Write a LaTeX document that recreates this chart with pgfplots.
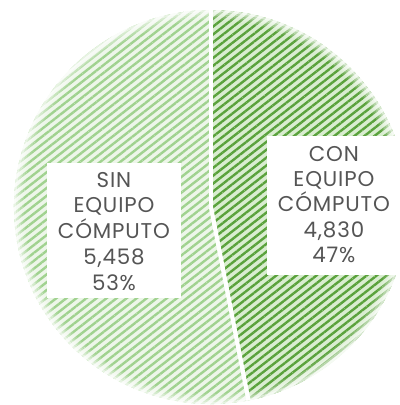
\documentclass[border=0pt]{standalone}
\usepackage{pgfplots}
\pgfplotsset{compat=1.18}
\usepackage{pgfplotstable}
\usetikzlibrary{patterns.meta}
\usepackage{fontspec}
\setmainfont[LetterSpace=4]{Poppins}
\definecolor{darkbg}{HTML}{D9EDD0}
\definecolor{darkstripe}{HTML}{5AA23C}
\definecolor{lightbg}{HTML}{EDF6E9}
\definecolor{lightstripe}{HTML}{A0D28F}
\definecolor{txt}{HTML}{555555}

\pgfplotstableread{
label value
CON 4830
SIN 5458
}\piedata

\begin{document}
\begin{tikzpicture}
\pgfplotstablegetelem{0}{value}\of\piedata \global\let\vcon\pgfplotsretval
\pgfplotstablegetelem{1}{value}\of\piedata \global\let\vsin\pgfplotsretval
\pgfmathsetmacro\total{\vcon+\vsin}
\pgfmathsetmacro\fcon{\vcon/\total}
\pgfmathsetmacro\fsin{\vsin/\total}
\pgfmathsetmacro\acon{360*\fcon}
\pgfmathsetmacro\asin{360*\fsin}
\pgfmathtruncatemacro\pcon{round(100*\fcon)}
\pgfmathtruncatemacro\psin{round(100*\fsin)}
\def\R{4.925cm}
\begin{axis}[hide axis, x=0.025cm, y=0.025cm, xmin=0, xmax=400, ymin=0, ymax=405,
  anchor=south west, at={(0,0)}, clip=true]
% light slice (SIN)
\fill[lightbg] (axis cs:211,198) -- ++(90:\R) arc[start angle=90, delta angle=\asin, radius=\R] -- cycle;
\fill[pattern={Lines[angle=38,distance=4.4pt,line width=1.7pt]}, pattern color=lightstripe]
  (axis cs:211,198) -- ++(90:\R) arc[start angle=90, delta angle=\asin, radius=\R] -- cycle;
% dark slice (CON)
\fill[darkbg] (axis cs:211,198) -- ++(90:\R) arc[start angle=90, delta angle=-\acon, radius=\R] -- cycle;
\fill[pattern={Lines[angle=38,distance=4.4pt,line width=1.7pt]}, pattern color=darkstripe]
  (axis cs:211,198) -- ++(90:\R) arc[start angle=90, delta angle=-\acon, radius=\R] -- cycle;
% soft rim
\draw[white, opacity=0.12, line width=1.5pt] (axis cs:211,198) circle[radius=4.7cm];
\draw[white, opacity=0.25, line width=1.5pt] (axis cs:211,198) circle[radius=4.75cm];
\draw[white, opacity=0.4, line width=1.5pt] (axis cs:211,198) circle[radius=4.8cm];
\draw[white, opacity=0.55, line width=1.5pt] (axis cs:211,198) circle[radius=4.85cm];
\draw[white, opacity=0.75, line width=1.5pt] (axis cs:211,198) circle[radius=4.9cm];
% separators
\draw[white, line width=3pt] (axis cs:211,198) -- ++(90:\R);
\draw[white, line width=3pt] (axis cs:211,198) -- ++({90-\acon}:\R);
% label boxes
\fill[white] (axis cs:267,130) rectangle (axis cs:410,269);
\fill[white] (axis cs:47,107) rectangle (axis cs:181,242);
\begin{scope}[every node/.style={font=\fontsize{15.2pt}{17.8pt}\selectfont, text=txt, anchor=base, inner sep=0pt}]
\node at (axis cs:334,244) {CON};
\node at (axis cs:334,219) {EQUIPO};
\node at (axis cs:334,194) {CÓMPUTO};
\node at (axis cs:334,168) {\pgfmathprintnumber[1000 sep={,},assume math mode=true]{\vcon}};
\node at (axis cs:334,143) {\pcon\%};
\node at (axis cs:114,218) {SIN};
\node at (axis cs:114,193) {EQUIPO};
\node at (axis cs:114,167) {CÓMPUTO};
\node at (axis cs:114,141) {\pgfmathprintnumber[1000 sep={,},assume math mode=true]{\vsin}};
\node at (axis cs:114,115) {\psin\%};
\end{scope}
\end{axis}
\pgfresetboundingbox
\path (0,0) rectangle (10cm,10.125cm);
\end{tikzpicture}
\end{document}
